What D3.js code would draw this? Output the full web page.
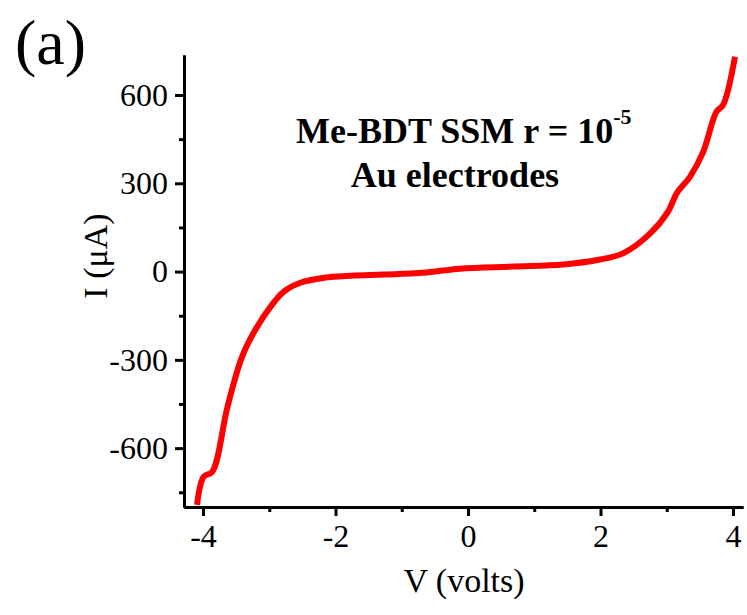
<!DOCTYPE html>
<html>
<head>
<meta charset="utf-8">
<script src="https://cdn.jsdelivr.net/npm/d3@7"></script>
<style>
  body { margin: 0; background: #fff; }
  svg { display: block; font-family: "Liberation Serif", "Times New Roman", serif; }
</style>
</head>
<body>
<div id="chart"></div>
<script>
// I-V curve (volts, microamps)
const voltage = [-4.09, -3.99, -3.86, -3.63, -3.41, -3.21, -2.98, -2.78, -2.53, -2.17,
                 -1.77, -1.27, -0.68, -0.12, 0.68, 1.44, 1.97, 2.34, 2.75, 3.02,
                 3.15, 3.35, 3.55, 3.75, 3.85, 4.03];
const current = [-793, -697, -680, -459, -289, -198, -119, -68, -38, -21,
                 -14, -10, -4, 10, 17, 24, 40, 62, 130, 204,
                 266, 322, 407, 543, 566, 730];
const xMajor = [-4, -2, 0, 2, 4];
const xMinor = [-3, -1, 1, 3];
const yMajor = [-600, -300, 0, 300, 600];
const yMinor = [-750, -450, -150, 150, 450];

const width = 747, height = 615;
const margin = {left: 184, top: 55, right: 4, bottom: 108};

const svg = d3.select("#chart").append("svg")
    .attr("width", width)
    .attr("height", height);

const x = d3.scaleLinear().domain([-4.287, 4.151]).range([margin.left, width - margin.right]);
const y = d3.scaleLinear().domain([-800, 736]).range([height - margin.bottom, margin.top]);

// axes
svg.append("g")
    .attr("transform", "translate(0," + y.range()[0] + ")")
    .call(d3.axisBottom(x).tickValues(xMajor).tickSize(9).tickSizeOuter(0).tickPadding(8)
      .tickFormat(d => d < 0 ? "-" + Math.abs(d) : d));
svg.append("g")
    .attr("transform", "translate(0," + y.range()[0] + ")")
    .call(d3.axisBottom(x).tickValues(xMinor).tickSize(5).tickSizeOuter(0).tickFormat(""));

svg.append("g")
    .attr("transform", "translate(" + x.range()[0] + ",0)")
    .call(d3.axisLeft(y).tickValues(yMajor).tickSize(9).tickSizeOuter(0).tickPadding(7)
      .tickFormat(d => d < 0 ? "-" + Math.abs(d) : d));
svg.append("g")
    .attr("transform", "translate(" + x.range()[0] + ",0)")
    .call(d3.axisLeft(y).tickValues(yMinor).tickSize(5).tickSizeOuter(0).tickFormat(""));

svg.selectAll(".domain").attr("stroke", "#000").attr("stroke-width", 3);
svg.selectAll(".tick line").attr("stroke", "#000").attr("stroke-width", 3);
svg.selectAll(".tick text")
    .attr("font-family", "Liberation Serif, Times New Roman, serif")
    .attr("font-size", 32)
    .attr("fill", "#000");

// curve
const points = voltage.map((v, i) => [v, current[i]]);
const line = d3.line()
    .x(d => x(d[0]))
    .y(d => y(d[1]))
    .curve(d3.curveCatmullRom.alpha(0.5));

svg.append("path")
    .datum(points)
    .attr("fill", "none")
    .attr("stroke", "#ff0000")
    .attr("stroke-width", 6)
    .attr("stroke-linejoin", "round")
    .attr("d", line);

// labels
svg.append("text")
    .attr("x", 464)
    .attr("y", 592)
    .attr("text-anchor", "middle")
    .attr("font-size", 34)
    .text("V (volts)");

svg.append("text")
    .attr("transform", "translate(107,256) rotate(-90)")
    .attr("text-anchor", "middle")
    .attr("font-size", 34)
    .text("I (\u03bcA)");

svg.append("text")
    .attr("x", 15)
    .attr("y", 64)
    .attr("font-size", 64)
    .text("(a)");

const note = svg.append("text")
    .attr("x", 296)
    .attr("y", 143)
    .attr("font-size", 36)
    .attr("font-weight", "bold");
note.append("tspan").text("Me-BDT SSM r = 10");
note.append("tspan").attr("dy", -19).attr("font-size", 22).text("-5");

svg.append("text")
    .attr("x", 455)
    .attr("y", 187)
    .attr("text-anchor", "middle")
    .attr("font-size", 36)
    .attr("font-weight", "bold")
    .text("Au electrodes");
</script>
</body>
</html>
